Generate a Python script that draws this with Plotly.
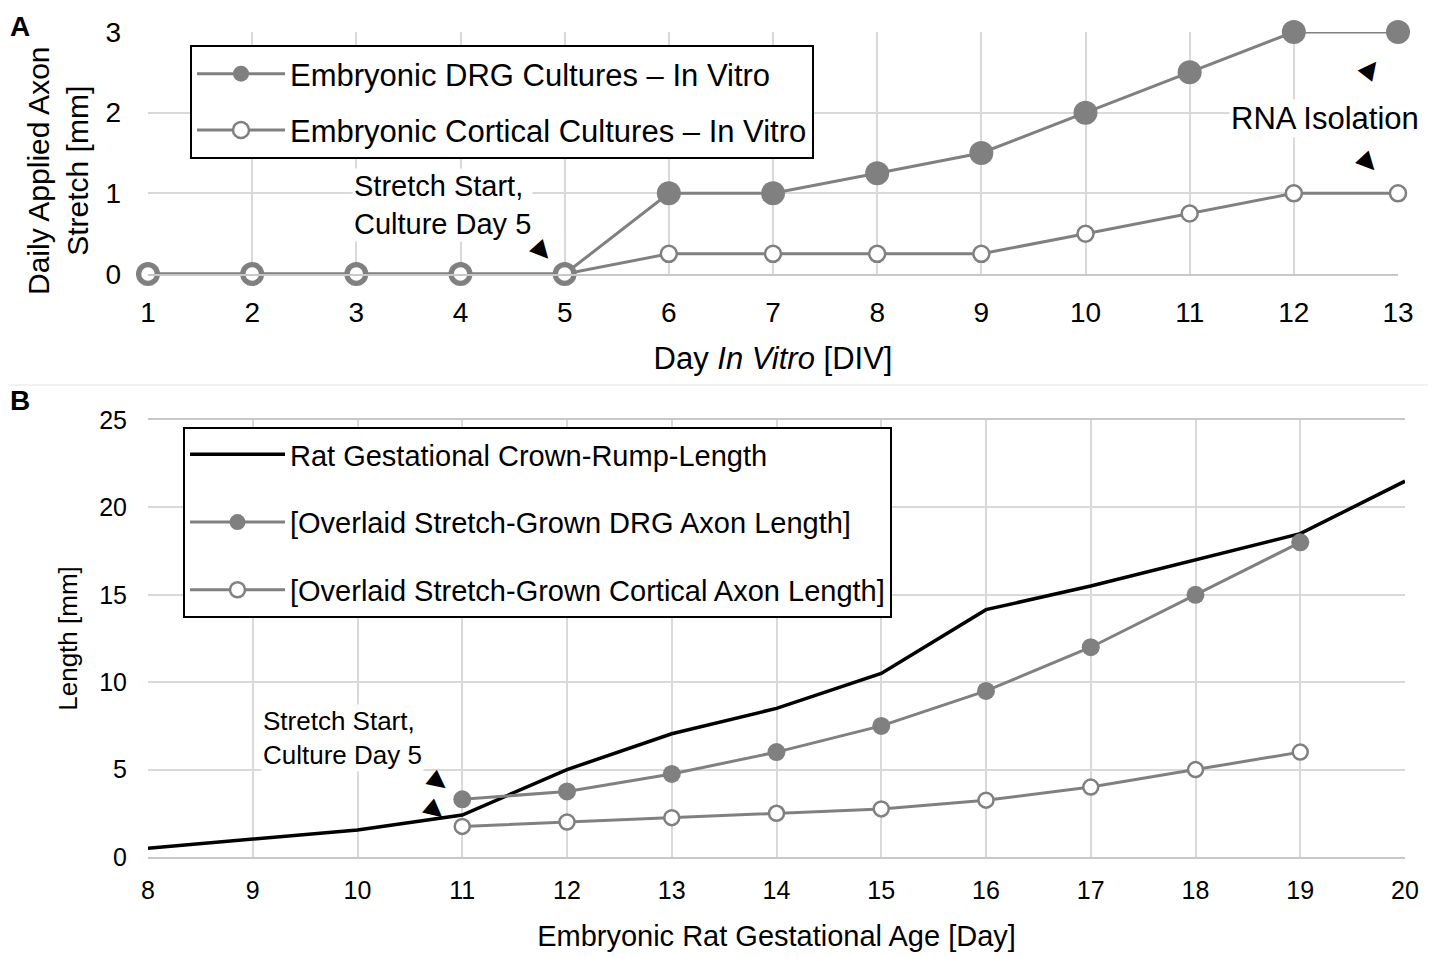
from plotly import graph_objects as go

# panel A - daily applied stretch
div_days = [1, 2, 3, 4, 5, 6, 7, 8, 9, 10, 11, 12, 13]
drg_daily = [0, 0, 0, 0, 0, 1, 1, 1.25, 1.5, 2, 2.5, 3, 3]
cortical_daily = [0, 0, 0, 0, 0, 0.25, 0.25, 0.25, 0.25, 0.5, 0.75, 1, 1]

# panel B - lengths vs gestational age
crl_days = [8, 9, 10, 11, 12, 13, 14, 15, 16, 17, 18, 19, 20]
crl_length = [0.5, 1.05, 1.55, 2.4, 5.0, 7.05, 8.5, 10.5, 14.15, 15.5, 17.0, 18.5, 21.5]
overlay_days = [11, 12, 13, 14, 15, 16, 17, 18, 19]
drg_length = [3.3, 3.75, 4.75, 6, 7.5, 9.5, 12, 15, 18]
cortical_length = [1.75, 2, 2.25, 2.5, 2.75, 3.25, 4, 5, 6]

GRAY = "rgb(128,128,128)"
GRID = "rgb(217,217,217)"
FONT = "Liberation Sans, Arial, sans-serif"


def gray_trace(x, y, name, filled, size, xa, ya, legend):
    return go.Scatter(x=x, y=y, name=name, mode="lines+markers",
                      line=dict(color=GRAY, width=3),
                      marker=dict(size=size, color=GRAY if filled else "white",
                                  line=dict(color=GRAY, width=0 if filled else 2.5)),
                      xaxis=xa, yaxis=ya, legend=legend, legendgroup=name,
                      cliponaxis=False)


def triangle(x, y, xref, yref, dx, dy, angle):
    # black arrowhead glyph pointing at (x, y), offset by dx/dy pixels
    fig.add_annotation(x=x, y=y, xref=xref, yref=yref, text="▶", showarrow=False,
                       textangle=angle, xshift=dx, yshift=dy,
                       font=dict(family="DejaVu Sans", size=24, color="black"))


fig = go.Figure()
fig.add_trace(gray_trace(div_days, drg_daily, "Embryonic DRG Cultures – In Vitro", True, 24, "x", "y", "legend"))
fig.add_trace(gray_trace(div_days, cortical_daily, "Embryonic Cortical Cultures – In Vitro", False, 16, "x", "y", "legend"))

fig.add_trace(go.Scatter(x=crl_days, y=crl_length, name="Rat Gestational Crown-Rump-Length", mode="lines",
                         line=dict(color="black", width=3.5), xaxis="x2", yaxis="y2",
                         legend="legend2", legendgroup="crl", cliponaxis=False))
fig.add_trace(gray_trace(overlay_days, drg_length, "[Overlaid Stretch-Grown DRG Axon Length]", True, 18, "x2", "y2", "legend2"))
fig.add_trace(gray_trace(overlay_days, cortical_length, "[Overlaid Stretch-Grown Cortical Axon Length]", False, 15, "x2", "y2", "legend2"))

axis_common = dict(showgrid=True, gridcolor=GRID, gridwidth=2, zeroline=False, ticks="",
                   fixedrange=True, automargin=False)

# page body adds an 8px offset, so the figure is 8px smaller than the window
fig.update_layout(
    width=1428, height=950,
    margin=dict(l=0, r=0, t=0, b=0, autoexpand=False),
    paper_bgcolor="white", plot_bgcolor="white",
    font=dict(family=FONT, color="black"),
    showlegend=True,
    xaxis=dict(axis_common, domain=[0.09804, 0.97339], range=[1, 13], dtick=1,
               showline=True, linecolor="rgb(200,200,200)", linewidth=2,
               tickfont=dict(size=28), ticklabelstandoff=12,
               title=dict(text="Day <i>In Vitro</i> [DIV]", font=dict(size=31), standoff=21)),
    yaxis=dict(axis_common, domain=[0.72, 0.97474], range=[0, 3], dtick=1,
               tickfont=dict(size=28), ticklabelstandoff=26),
    xaxis2=dict(axis_common, domain=[0.09804, 0.97829], range=[8, 20], dtick=1, anchor="y2",
                showline=True, linecolor="rgb(200,200,200)", linewidth=2, mirror=True,
                tickfont=dict(size=25), ticklabelstandoff=10,
                title=dict(text="Embryonic Rat Gestational Age [Day]", font=dict(size=29), standoff=23)),
    yaxis2=dict(axis_common, domain=[0.10632, 0.56632], range=[0, 25], dtick=5, anchor="x2",
                tickfont=dict(size=25), ticklabelstandoff=20,
                title=dict(text="Length [mm]", font=dict(size=26), standoff=14)),
    legend=dict(x=0.12745, y=0.96105, xanchor="left", yanchor="top", bgcolor="white",
                bordercolor="black", borderwidth=2, font=dict(size=31),
                traceorder="grouped", tracegroupgap=13, itemwidth=88),
    legend2=dict(x=0.12255, y=0.55895, xanchor="left", yanchor="top", bgcolor="white",
                 bordercolor="black", borderwidth=2, font=dict(size=29),
                 traceorder="grouped", tracegroupgap=27, itemwidth=95),
)

# y title of panel A sits a little below the axis centre in the original
fig.add_annotation(x=0.0354, y=0.829, xref="paper", yref="paper", xanchor="center", yanchor="middle",
                   text="Daily Applied Axon<br>Stretch [mm]", textangle=-90,
                   showarrow=False, font=dict(size=30))

# text labels
fig.add_annotation(x=3.83, y=0.86, xref="x", yref="y", text="Stretch Start,<br>Culture Day 5",
                   showarrow=False, align="left", bgcolor="white", font=dict(size=29))
fig.add_annotation(x=12.3, y=1.93, xref="x", yref="y", text="RNA Isolation",
                   showarrow=False, bgcolor="white", font=dict(size=31))
fig.add_annotation(x=9.86, y=6.8, xref="x2", yref="y2", text="Stretch Start,<br>Culture Day 5",
                   showarrow=False, align="left", bgcolor="white", font=dict(size=26))

# arrowheads
triangle(5, 0, "x", "y", -21, 23, 48)
triangle(13, 3, "x", "y", -29, -36, -52)
triangle(13, 1, "x", "y", -29, 31, 47)
triangle(11, 3.3, "x2", "y2", -23, 18, 38)
triangle(11, 2.4, "x2", "y2", -26, 5, 40)

# panel letters
fig.add_annotation(x=0.0, y=0.999, xref="paper", yref="paper", text="<b>A</b>", showarrow=False,
                   xanchor="left", yanchor="top", font=dict(size=28))
fig.add_annotation(x=0.0, y=0.605, xref="paper", yref="paper", text="<b>B</b>", showarrow=False,
                   xanchor="left", yanchor="top", font=dict(size=28))

fig.add_shape(type="line", xref="paper", yref="paper", x0=0, x1=1, y0=0.6032, y1=0.6032,
              line=dict(color="rgb(242,242,242)", width=2))

fig.write_html("out.html")
